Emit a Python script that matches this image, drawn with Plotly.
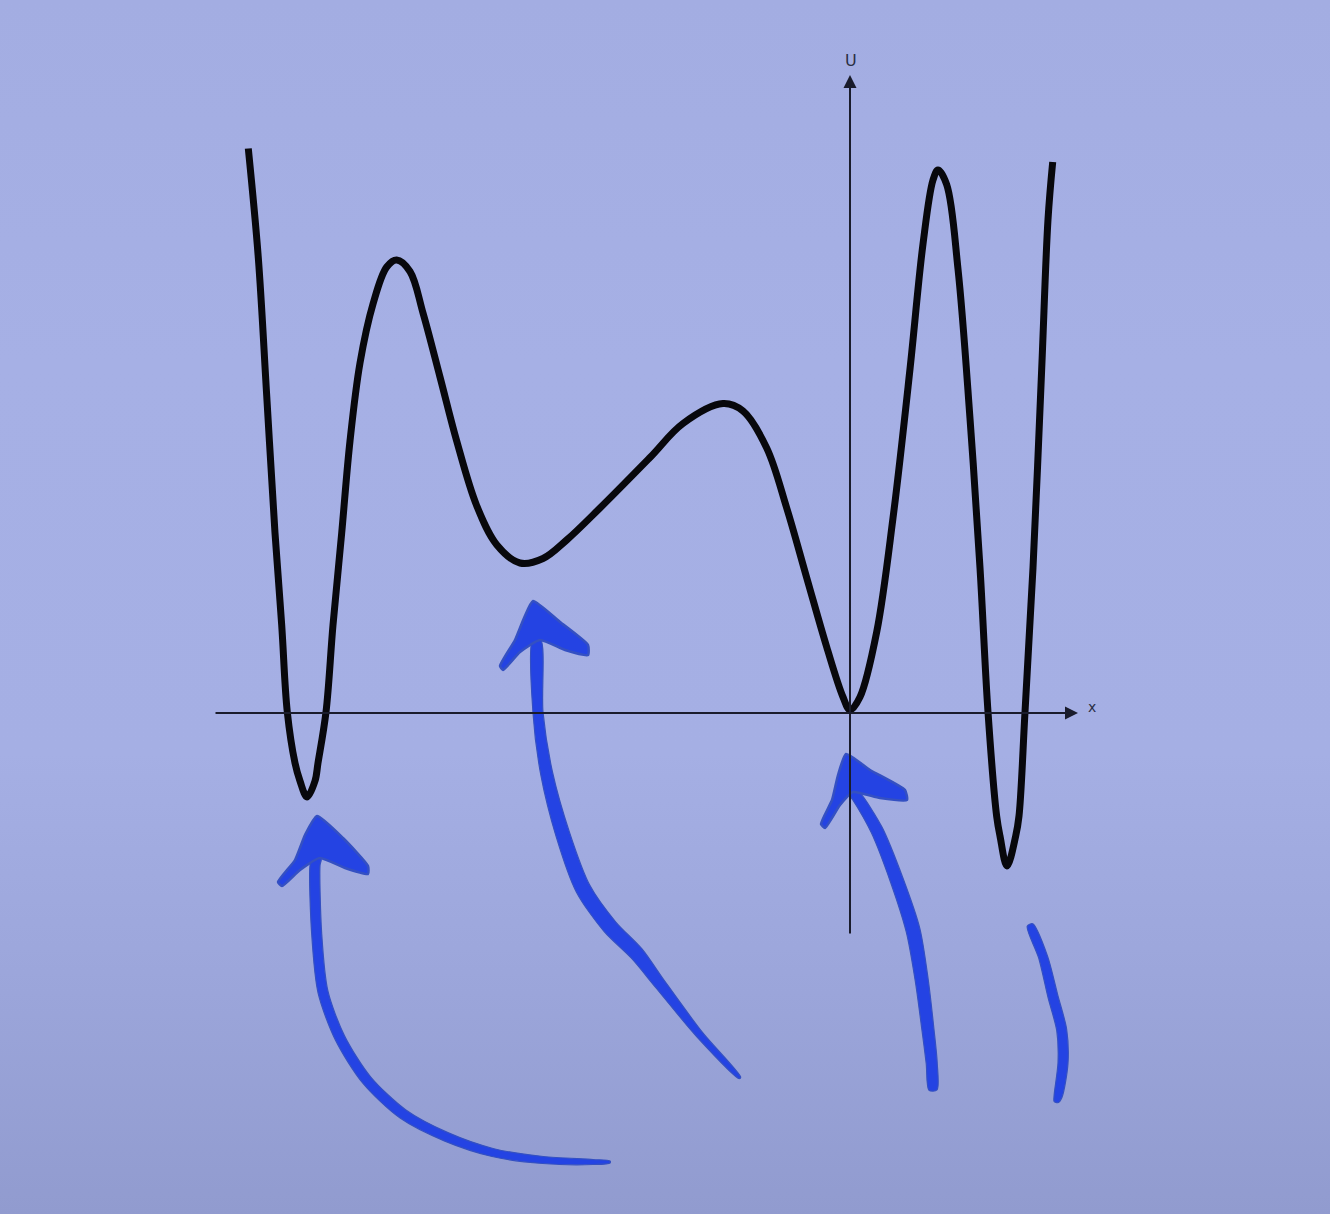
import numpy as np
import plotly.graph_objects as go

# ---- potential curve U(x) (x, U in chart units) ----
curve_x = [-6.017, -5.917, -5.833, -5.75, -5.683, -5.627, -5.55, -5.5, -5.43, -5.35, -5.32, -5.24,
           -5.17, -5.083, -5.0, -4.9, -4.77, -4.633, -4.533, -4.4, -4.27, -4.1,
           -3.933, -3.733, -3.533, -3.3, -3.07, -2.833, -2.5, -2.0, -1.67, -1.27,
           -1.07, -0.833, -0.633, -0.433, -0.233, -0.07, 0.0, 0.1, 0.267, 0.43,
           0.6, 0.73, 0.83, 0.88, 0.967, 1.08, 1.2, 1.3, 1.38, 1.467, 1.5,
           1.57, 1.657, 1.69, 1.75, 1.83, 1.917, 1.98, 2.027]
curve_u = [5.645, 4.553, 3.175, 1.8, 0.88, 0.01, -0.5, -0.68, -0.84, -0.68, -0.5, 0.01,
           0.88, 1.8, 2.72, 3.5, 4.09, 4.46, 4.53, 4.415, 4.0, 3.36,
           2.72, 2.073, 1.683, 1.5, 1.545, 1.73, 2.05, 2.555, 2.895, 3.094,
           3.02, 2.65, 2.05, 1.353, 0.66, 0.16, 0.03, 0.16, 0.81, 1.95,
           3.44, 4.69, 5.33, 5.43, 5.283, 4.44, 2.945, 1.453, 0.01, -1.035, -1.23,
           -1.53, -1.23, -1.03, 0.01, 1.453, 3.443, 4.935, 5.51]

# axes extents
x_axis_from, x_axis_to = -6.36, 2.28
u_axis_from, u_axis_to = -2.22, 6.38
axis_labels = ["U", "x"]

# ---- hand-drawn blue arrows (centre lines, in chart units) ----
a1_x = [-5.333, -5.35, -5.333, -5.27, -5.1, -4.833, -4.47, -4.033, -3.57, -3.07, -2.57, -2.4]
a1_u = [-1.45, -1.525, -2.21, -2.79, -3.25, -3.67, -4.01, -4.24, -4.396, -4.47, -4.49, -4.49]
a1_w = [4.5, 5, 5, 5, 5, 5, 5, 4.5, 4, 3.5, 2.5, 1]
a1_head_px = [(317, 816), (343, 838), (368, 866), (368, 874), (345, 868), (320, 858),
              (300, 870), (282, 886), (278, 882), (295, 860), (305, 835)]

a2_x = [-3.133, -3.12, -3.033, -2.87, -2.67, -2.4, -2.133, -1.9, -1.5, -1.1]
a2_u = [0.73, 0.005, -0.607, -1.22, -1.755, -2.138, -2.406, -2.71, -3.22, -3.65]
a2_w = [4, 5, 6, 7, 7.5, 7.5, 7, 5.5, 3.5, 1]
a2_head_px = [(533, 601), (560, 622), (588, 645), (588, 655), (565, 650), (540, 640),
              (520, 652), (503, 670), (500, 666), (515, 640), (524, 618)]

a3_x = [0.017, 0.067, 0.267, 0.467, 0.63, 0.717, 0.78, 0.817, 0.83]
a3_u = [-0.787, -0.837, -1.17, -1.67, -2.17, -2.67, -3.17, -3.5, -3.77]
a3_w = [4, 5, 6, 6.5, 7, 6.5, 6, 5.5, 4]
a3_head_px = [(846, 754), (870, 770), (905, 790), (907, 800), (880, 798), (853, 792),
              (840, 805), (825, 828), (821, 824), (832, 800), (838, 775)]

a4_x = [1.8, 1.93, 2.03, 2.117, 2.13, 2.08, 2.06]
a4_u = [-2.12, -2.437, -2.837, -3.17, -3.5, -3.837, -3.89]
a4_w = [3, 4.5, 5, 5, 5, 4, 2]

BLUE = "#2443e3"
EDGE = "#3450c2"
BG = "#a5afe4"

fig = go.Figure()

# background gradient
fig.add_trace(go.Scatter(
    x=[-8.5, 4.8, 4.8, -8.5, -8.5], y=[-5.01, -5.01, 7.13, 7.13, -5.01],
    mode="lines", line=dict(width=0), fill="toself",
    fillgradient=dict(type="vertical",
                      colorscale=[[0, "#919bcf"], [0.2, "#9ca6db"], [0.38, "#a5afe4"],
                                  [0.7, "#a6b0e5"], [1, "#a3ade2"]]),
    hoverinfo="skip", showlegend=False))


def stroke_polygon(xs, us, ws):
    xs = np.asarray(xs, float)
    us = np.asarray(us, float)
    ws = np.asarray(ws, float) / 100.0  # 100 px per chart unit
    dx = np.gradient(xs)
    du = np.gradient(us)
    n = np.hypot(dx, du)
    nx, nu = -du / n, dx / n
    left_x, left_u = xs + nx * ws, us + nu * ws
    right_x, right_u = xs - nx * ws, us - nu * ws
    px = np.concatenate([left_x, right_x[::-1], left_x[:1]])
    pu = np.concatenate([left_u, right_u[::-1], left_u[:1]])
    return px, pu


def add_stroke(xs, us, ws):
    px, pu = stroke_polygon(xs, us, ws)
    fig.add_trace(go.Scatter(x=px, y=pu, mode="lines", fill="toself",
                             fillcolor=BLUE, line=dict(color=EDGE, width=1.2, shape="spline", smoothing=0.8),
                             hoverinfo="skip", showlegend=False))


def add_head(pts):
    hx = [(p[0] - 850) / 100 for p in pts] + [(pts[0][0] - 850) / 100]
    hu = [(713 - p[1]) / 100 for p in pts] + [(713 - pts[0][1]) / 100]
    fig.add_trace(go.Scatter(x=hx, y=hu, mode="lines", fill="toself",
                             fillcolor=BLUE, line=dict(color=EDGE, width=2.5, shape="spline", smoothing=0.5),
                             hoverinfo="skip", showlegend=False))


add_stroke(a1_x, a1_u, a1_w)
add_head(a1_head_px)
add_stroke(a2_x, a2_u, a2_w)
add_head(a2_head_px)
add_stroke(a3_x, a3_u, a3_w)
add_head(a3_head_px)
add_stroke(a4_x, a4_u, a4_w)

# potential curve
fig.add_trace(go.Scatter(x=curve_x, y=curve_u, mode="lines",
                         line=dict(color="#08080c", width=7, shape="spline", smoothing=1.0),
                         hoverinfo="skip", showlegend=False))

AX = "#1a1c2c"
fig.add_annotation(x=x_axis_to, y=0, ax=x_axis_from, ay=0, xref="x", yref="y",
                   axref="x", ayref="y", showarrow=True, arrowhead=2, arrowsize=1.3,
                   arrowwidth=2, arrowcolor=AX, text="")
fig.add_annotation(x=0, y=u_axis_to, ax=0, ay=u_axis_from, xref="x", yref="y",
                   axref="x", ayref="y", showarrow=True, arrowhead=2, arrowsize=1.3,
                   arrowwidth=2, arrowcolor=AX, text="")
fig.add_annotation(x=0.01, y=6.53, text=axis_labels[0], showarrow=False,
                   font=dict(family="DejaVu Sans", size=16, color="#2a2e44"))
fig.add_annotation(x=2.42, y=0.06, text=axis_labels[1], showarrow=False,
                   font=dict(family="DejaVu Sans", size=14, color="#2a2e44"))

fig.update_layout(
    width=1330, height=1214,
    margin=dict(l=0, r=0, t=0, b=0, pad=0),
    paper_bgcolor=BG, plot_bgcolor=BG,
    xaxis=dict(range=[-8.5, 4.8], visible=False, fixedrange=True),
    yaxis=dict(range=[-5.01, 7.13], visible=False, fixedrange=True),
    showlegend=False,
)

fig.write_html("out.html", config={"displayModeBar": False},
               post_script="document.body.style.margin='0';document.body.style.padding='0';"
                           "document.body.style.background='%s';document.documentElement.style.overflow='hidden';" % BG)
